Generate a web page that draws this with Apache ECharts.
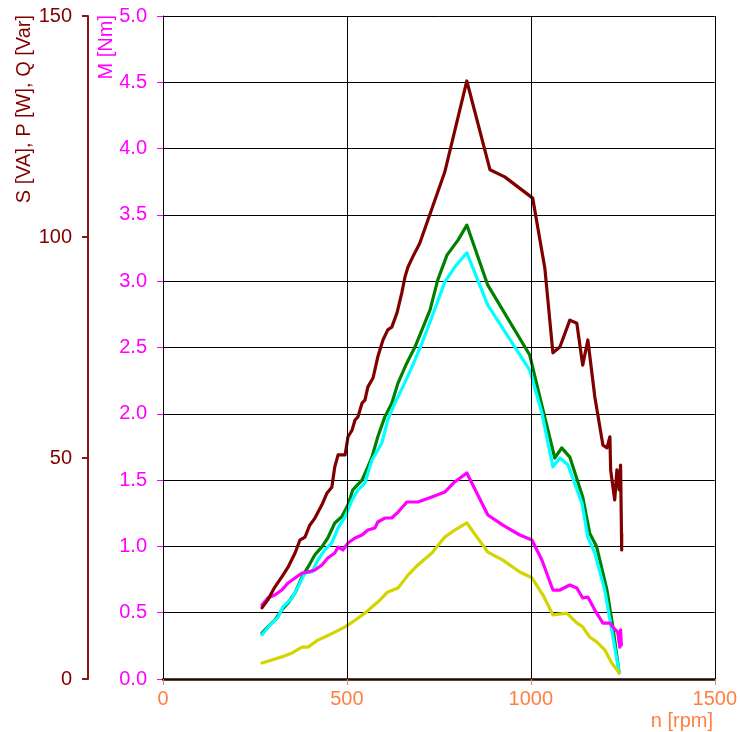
<!DOCTYPE html>
<html>
<head>
<meta charset="utf-8">
<title>Motor characteristics vs speed</title>
<script src="https://cdn.jsdelivr.net/npm/echarts@6/dist/echarts.min.js"></script>
<style>
  html, body { margin: 0; padding: 0; background: #ffffff; }
  #chart { width: 740px; height: 732px; }
</style>
</head>
<body>
<div id="chart"></div>
<script>
// Axis ticks
const rpmTicks = [0, 500, 1000, 1500];
const powerTicks = [0, 50, 100, 150];
const torqueTicks = [0, 0.5, 1, 1.5, 2, 2.5, 3, 3.5, 4, 4.5, 5];

// Apparent power S [VA]
const rpmS = [269, 285, 304, 323, 340, 359, 372, 386, 399, 413, 432, 446, 459, 467, 476, 495, 503, 514, 522, 530, 541, 549, 557, 571, 584, 598, 611, 622, 636, 649, 658, 666, 679, 698, 766, 826, 889, 929, 1005, 1038, 1060, 1079, 1106, 1125, 1141, 1155, 1174, 1196, 1207, 1215, 1217, 1228, 1234, 1240, 1244, 1247, 1247];
const valS = [16.1, 17.9, 20.8, 23.1, 25.3, 28.5, 31.4, 32.1, 34.8, 36.4, 39.4, 42.1, 43.4, 48.0, 50.7, 50.7, 54.8, 56.3, 58.6, 59.3, 62.4, 63.1, 66.1, 68.1, 72.9, 76.7, 79.0, 79.6, 82.8, 87.3, 91.0, 93.2, 95.5, 98.6, 114.7, 135.3, 115.2, 113.6, 108.8, 93.0, 73.8, 75.1, 81.2, 80.5, 71.0, 76.7, 63.8, 52.9, 52.3, 54.8, 47.3, 40.5, 47.3, 42.8, 48.4, 29.2, 33.0];

// Active power P [W]
const rpmP = [269, 285, 304, 323, 340, 359, 378, 394, 413, 432, 448, 467, 486, 503, 516, 541, 557, 568, 584, 603, 622, 639, 663, 685, 704, 726, 747, 772, 802, 826, 883, 997, 1033, 1065, 1084, 1106, 1141, 1160, 1179, 1207, 1223, 1240];
const valP = [10.4, 11.8, 13.3, 15.6, 17.2, 19.5, 23.1, 25.3, 28.1, 29.9, 31.9, 35.3, 36.7, 39.4, 42.8, 45.0, 48.0, 50.2, 54.8, 59.3, 62.4, 67.0, 71.5, 75.1, 79.0, 83.5, 90.3, 95.9, 99.3, 102.7, 89.1, 73.3, 60.9, 50.0, 52.3, 50.2, 41.2, 33.0, 29.9, 20.1, 11.8, 1.4];

// Reactive power Q [Var]
const rpmQ = [269, 291, 313, 326, 351, 367, 386, 405, 421, 440, 459, 476, 495, 514, 530, 549, 557, 568, 584, 595, 611, 630, 652, 677, 704, 731, 766, 793, 826, 883, 997, 1030, 1060, 1079, 1101, 1139, 1155, 1174, 1201, 1220, 1240];
const valQ = [10.0, 12.2, 14.0, 16.3, 18.3, 20.8, 24.0, 24.2, 26.9, 29.2, 30.8, 34.2, 36.7, 40.5, 42.8, 44.3, 46.6, 49.5, 51.8, 53.4, 58.6, 62.4, 66.1, 70.6, 76.0, 81.9, 89.8, 93.2, 96.4, 84.6, 69.9, 60.2, 48.0, 50.0, 48.4, 39.8, 32.1, 28.5, 20.1, 11.1, 1.4];

// Mechanical output power [W]
const rpmPm = [269, 296, 323, 351, 378, 394, 421, 440, 467, 495, 522, 549, 568, 584, 611, 639, 666, 693, 731, 766, 793, 826, 883, 924, 970, 1003, 1033, 1060, 1098, 1125, 1141, 1160, 1179, 1201, 1220, 1240];
const valPm = [3.6, 4.3, 5.0, 5.9, 7.2, 7.2, 8.8, 9.5, 10.6, 11.8, 13.3, 14.9, 16.3, 17.4, 19.7, 20.6, 23.5, 25.8, 28.5, 32.1, 33.7, 35.3, 28.7, 26.9, 24.2, 22.9, 19.0, 14.5, 14.9, 12.7, 11.8, 9.5, 8.4, 6.6, 3.6, 1.4];

// Torque M [Nm]
const rpmM = [269, 285, 304, 323, 340, 359, 378, 394, 413, 432, 448, 467, 476, 489, 503, 522, 541, 557, 576, 584, 603, 622, 639, 663, 693, 731, 766, 793, 826, 883, 924, 970, 1003, 1030, 1060, 1079, 1106, 1125, 1141, 1155, 1174, 1196, 1215, 1223, 1236, 1242, 1244, 1246];
const valM = [0.558, 0.611, 0.633, 0.671, 0.724, 0.762, 0.799, 0.807, 0.822, 0.860, 0.913, 0.950, 0.995, 0.973, 1.026, 1.063, 1.086, 1.124, 1.139, 1.184, 1.214, 1.214, 1.259, 1.335, 1.335, 1.373, 1.410, 1.486, 1.554, 1.237, 1.161, 1.086, 1.048, 0.897, 0.671, 0.671, 0.709, 0.686, 0.611, 0.618, 0.520, 0.422, 0.422, 0.392, 0.354, 0.240, 0.370, 0.256];

const pairs = (xs, ys) => xs.map((x, i) => [x, ys[i]]);

const FONT = '"Liberation Sans", Arial, sans-serif';
const DARK_RED = '#800000';
const MAGENTA = '#ff00ff';
const ORANGE = '#ff8040';

const chart = echarts.init(document.getElementById('chart'), null, { renderer: 'canvas' });

function lineSeries(name, data, color, yIndex, z) {
  return {
    name: name,
    type: 'line',
    yAxisIndex: yIndex,
    data: data,
    showSymbol: false,
    symbol: 'none',
    smooth: false,
    animation: false,
    z: z,
    lineStyle: { color: color, width: 3.2, join: 'round', cap: 'round' }
  };
}

chart.setOption({
  backgroundColor: '#ffffff',
  animation: false,
  grid: { left: 163, right: 25, top: 16, bottom: 53, containLabel: false },
  xAxis: {
    type: 'value',
    min: rpmTicks[0],
    max: rpmTicks[rpmTicks.length - 1],
    interval: rpmTicks[1] - rpmTicks[0],
    z: 10,
    axisLine: { show: true, onZero: false, lineStyle: { color: '#1a0a00', width: 2.5 } },
    axisTick: { show: true, length: 6, lineStyle: { color: ORANGE, width: 1 } },
    axisLabel: { color: ORANGE, fontSize: 20, fontFamily: FONT, margin: 10, formatter: v => String(v) },
    splitLine: { show: true, showMinLine: true, showMaxLine: true, lineStyle: { color: '#000000', width: 1 } }
  },
  yAxis: [
    {
      type: 'value',
      position: 'left',
      min: torqueTicks[0],
      max: torqueTicks[torqueTicks.length - 1],
      interval: 0.5,
      axisLine: { show: true, onZero: false, lineStyle: { color: '#000000', width: 1 } },
      axisTick: { show: true, length: 6, lineStyle: { color: MAGENTA, width: 1 } },
      axisLabel: { color: MAGENTA, fontSize: 20, fontFamily: FONT, margin: 16, formatter: v => v.toFixed(1) },
      splitLine: { show: true, showMinLine: true, showMaxLine: true, lineStyle: { color: '#000000', width: 1 } }
    },
    {
      type: 'value',
      position: 'left',
      offset: 75,
      min: powerTicks[0],
      max: powerTicks[powerTicks.length - 1],
      interval: 50,
      axisLine: { show: true, onZero: false, lineStyle: { color: '#8a1515', width: 2 } },
      axisTick: { show: true, length: 6, lineStyle: { color: '#8a1515', width: 2 } },
      axisLabel: { color: DARK_RED, fontSize: 20, fontFamily: FONT, margin: 16 },
      splitLine: { show: false }
    }
  ],
  graphic: [
    {
      type: 'text', x: 24, y: 15, rotation: Math.PI / 2,
      style: { text: 'S [VA], P [W], Q [Var]', fill: DARK_RED, font: '20px ' + FONT, align: 'right', verticalAlign: 'middle' }
    },
    {
      type: 'text', x: 106, y: 15, rotation: Math.PI / 2,
      style: { text: 'M [Nm]', fill: MAGENTA, font: '20px ' + FONT, align: 'right', verticalAlign: 'middle' }
    },
    {
      type: 'text', x: 713, y: 721,
      style: { text: 'n [rpm]', fill: ORANGE, font: '20px ' + FONT, align: 'right', verticalAlign: 'middle' }
    }
  ],
  series: [
    lineSeries('P', pairs(rpmP, valP), '#008000', 1, 2),
    lineSeries('Q', pairs(rpmQ, valQ), '#00ffff', 1, 3),
    lineSeries('Pmech', pairs(rpmPm, valPm), '#d4d400', 1, 4),
    lineSeries('M', pairs(rpmM, valM), MAGENTA, 0, 5),
    lineSeries('S', pairs(rpmS, valS), DARK_RED, 1, 6)
  ]
});
</script>
</body>
</html>
